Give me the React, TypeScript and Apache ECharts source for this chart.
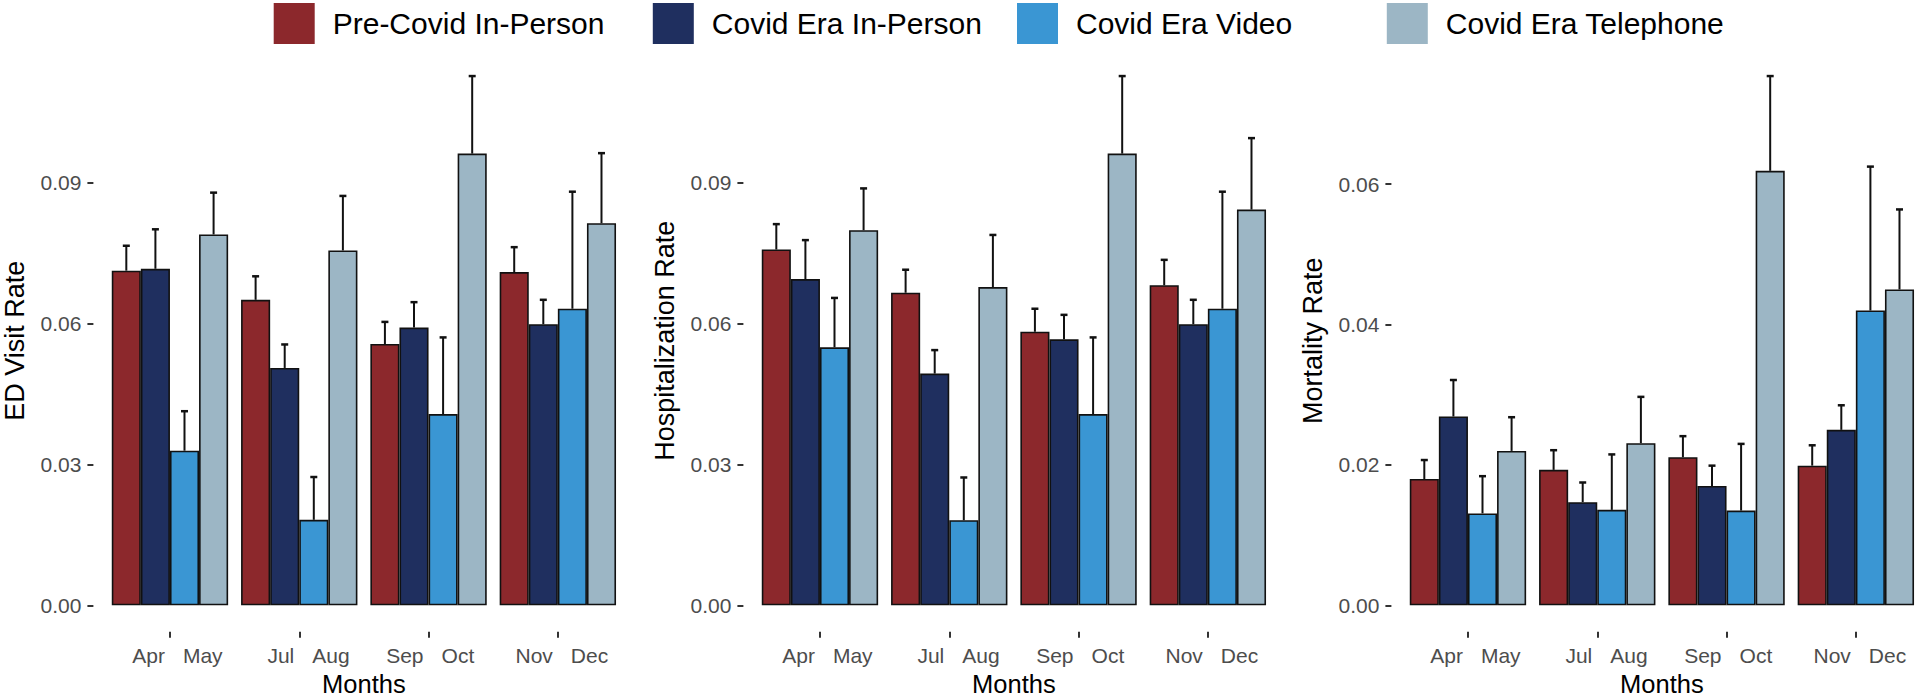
import React, { useEffect, useRef } from "react";
import * as echarts from "echarts";

const seriesNames = ["Pre-Covid In-Person", "Covid Era In-Person", "Covid Era Video", "Covid Era Telephone"];
const seriesColors = ["#8C282C", "#1F2F5F", "#3A96D3", "#9CB6C5"];
const groupCategories = ["Apr-May", "Jul-Aug", "Sep-Oct", "Nov-Dec"];
const tickFirst = ["Apr", "Jul", "Sep", "Nov"];
const tickSecond = ["May", "Aug", "Oct", "Dec"];

// rows = series (in seriesNames order), columns = month groups
const edValues = [
  [0.0712, 0.065, 0.0556, 0.0709],
  [0.0716, 0.0505, 0.0591, 0.0598],
  [0.0329, 0.0182, 0.0407, 0.0631],
  [0.0789, 0.0755, 0.0961, 0.0813],
];
const edUpper = [
  [0.0765, 0.07, 0.0603, 0.0762],
  [0.08, 0.0555, 0.0645, 0.065],
  [0.0413, 0.0273, 0.057, 0.088],
  [0.0878, 0.0871, 0.1126, 0.0962],
];
const hospValues = [
  [0.0757, 0.0665, 0.0582, 0.0681],
  [0.0694, 0.0493, 0.0566, 0.0598],
  [0.0549, 0.0181, 0.0407, 0.0631],
  [0.0798, 0.0677, 0.0961, 0.0842],
];
const hospUpper = [
  [0.0811, 0.0714, 0.0631, 0.0735],
  [0.0777, 0.0543, 0.0618, 0.065],
  [0.0654, 0.0272, 0.057, 0.088],
  [0.0887, 0.0788, 0.1126, 0.0994],
];
const mortValues = [
  [0.018, 0.0193, 0.0211, 0.0199],
  [0.0269, 0.0147, 0.017, 0.025],
  [0.0131, 0.0136, 0.0135, 0.042],
  [0.022, 0.0231, 0.0619, 0.045],
];
const mortUpper = [
  [0.0207, 0.0221, 0.0241, 0.0228],
  [0.0321, 0.0175, 0.0199, 0.0285],
  [0.0184, 0.0215, 0.023, 0.0625],
  [0.0268, 0.0297, 0.0754, 0.0564],
];
const rateTicks = [0, 0.03, 0.06, 0.09];
const mortTicks = [0, 0.02, 0.04, 0.06];
const panelTitles = ["ED Visit Rate", "Hospitalization Rate", "Mortality Rate"];

const FONT = "'Liberation Sans', Arial, Helvetica, sans-serif";
const legendLefts = [273.7, 652.8, 1017, 1386.8];

export default function App() {
  const ref = useRef<HTMLDivElement>(null);
  useEffect(() => {
    if (!ref.current) return;
    const chart = echarts.init(ref.current, undefined, { renderer: "svg" });
    const panels = [
      { values: edValues, upper: edUpper, ticks: rateTicks, title: panelTitles[0], offset: 0 },
      { values: hospValues, upper: hospUpper, ticks: rateTicks, title: panelTitles[1], offset: 650 },
      { values: mortValues, upper: mortUpper, ticks: mortTicks, title: panelTitles[2], offset: 1298 },
    ];
    const grid: any[] = [];
    const xAxis: any[] = [];
    const yAxis: any[] = [];
    const series: any[] = [];
    const labelStyle = { fontSize: 21, color: "#4D4D4D", fontFamily: FONT };
    panels.forEach((p, pi) => {
      const maxTop = Math.max(...p.upper.flat());
      grid.push({ left: 105.3 + p.offset, top: 49.6, width: 517.2, height: 582.2, containLabel: false, outerBoundsMode: "none" });
      xAxis.push({
        type: "category",
        gridIndex: pi,
        position: "bottom",
        data: groupCategories,
        name: "Months",
        nameLocation: "middle",
        nameGap: 37,
        nameTextStyle: { fontSize: 25.5, lineHeight: 22, color: "#000", fontFamily: FONT },
        axisLine: { show: false, onZero: false },
        axisTick: { show: true, alignWithLabel: true, interval: 0, length: 6, lineStyle: { color: "#333", width: 2 } },
        axisLabel: {
          ...labelStyle,
          interval: 0,
          margin: 13,
          align: "right",
          padding: [0, 5, 0, 0],
          formatter: (_v: string, i: number) => tickFirst[i],
        },
        splitLine: { show: false },
      });
      xAxis.push({
        type: "category",
        gridIndex: pi,
        position: "bottom",
        data: groupCategories,
        axisLine: { show: false, onZero: false },
        axisTick: { show: false },
        axisLabel: {
          ...labelStyle,
          interval: 0,
          margin: 13,
          align: "left",
          padding: [0, 0, 0, 13],
          formatter: (_v: string, i: number) => tickSecond[i],
        },
        splitLine: { show: false },
      });
      yAxis.push({
        type: "value",
        gridIndex: pi,
        min: -0.05 * maxTop,
        max: 1.05 * maxTop,
        offset: 11.9,
        name: p.title,
        nameLocation: "middle",
        nameGap: 65,
        nameTextStyle: { fontSize: 27, color: "#000", fontFamily: FONT },
        axisLine: { show: false },
        axisTick: { show: true, length: 6, customValues: p.ticks, lineStyle: { color: "#333", width: 2 } },
        axisLabel: {
          ...labelStyle,
          customValues: p.ticks,
          margin: 12,
          formatter: (v: number) => v.toFixed(2),
        },
        splitLine: { show: false },
      });
      seriesNames.forEach((name, si) => {
        series.push({
          type: "bar",
          name,
          xAxisIndex: 2 * pi,
          yAxisIndex: pi,
          data: p.values[si],
          barWidth: "22.5%",
          barGap: "0%",
          itemStyle: { color: seriesColors[si], borderColor: "#111", borderWidth: 1.6 },
          z: 2,
        });
      });
      const errData: number[][] = [];
      seriesNames.forEach((_n, si) => {
        p.values[si].forEach((v, gi) => errData.push([gi, si, p.upper[si][gi], v]));
      });
      series.push({
        type: "custom",
        xAxisIndex: 2 * pi,
        yAxisIndex: pi,
        dimensions: ["group", "series", "upper", "value"],
        encode: { x: "group", y: ["upper", "value"] },
        data: errData,
        z: 3,
        silent: true,
        renderItem: (_params: any, api: any) => {
          const g = api.value(0);
          const s = api.value(1);
          const hi = api.value(2);
          const v = api.value(3);
          const band = api.size([1, 0])[0];
          const bw = band * 0.225;
          const c0 = api.coord([g, v]);
          const c1 = api.coord([g, hi]);
          const x = c0[0] + (s - 1.5) * bw;
          return {
            type: "group",
            children: [
              { type: "line", shape: { x1: x, y1: c0[1], x2: x, y2: c1[1] }, style: { stroke: "#111", lineWidth: 2 } },
              { type: "line", shape: { x1: x - 3.5, y1: c1[1], x2: x + 3.5, y2: c1[1] }, style: { stroke: "#111", lineWidth: 2.5 } },
            ],
          };
        },
      });
    });
    const legend = seriesNames.map((name, i) => ({
      data: [name],
      left: legendLefts[i],
      top: 3,
      padding: 0,
      itemWidth: 41,
      itemHeight: 41,
      icon: "rect",
      itemStyle: { borderWidth: 0 },
      textStyle: { fontSize: 30, color: "#000", fontFamily: FONT, padding: [0, 0, 0, 13] },
      selectedMode: false,
    }));
    chart.setOption({
      animation: false,
      backgroundColor: "#fff",
      legend,
      grid,
      xAxis,
      yAxis,
      series,
    });
    return () => chart.dispose();
  }, []);
  return <div ref={ref} style={{ position: "fixed", left: 0, top: 0, width: 1920, height: 697 }} />;
}
